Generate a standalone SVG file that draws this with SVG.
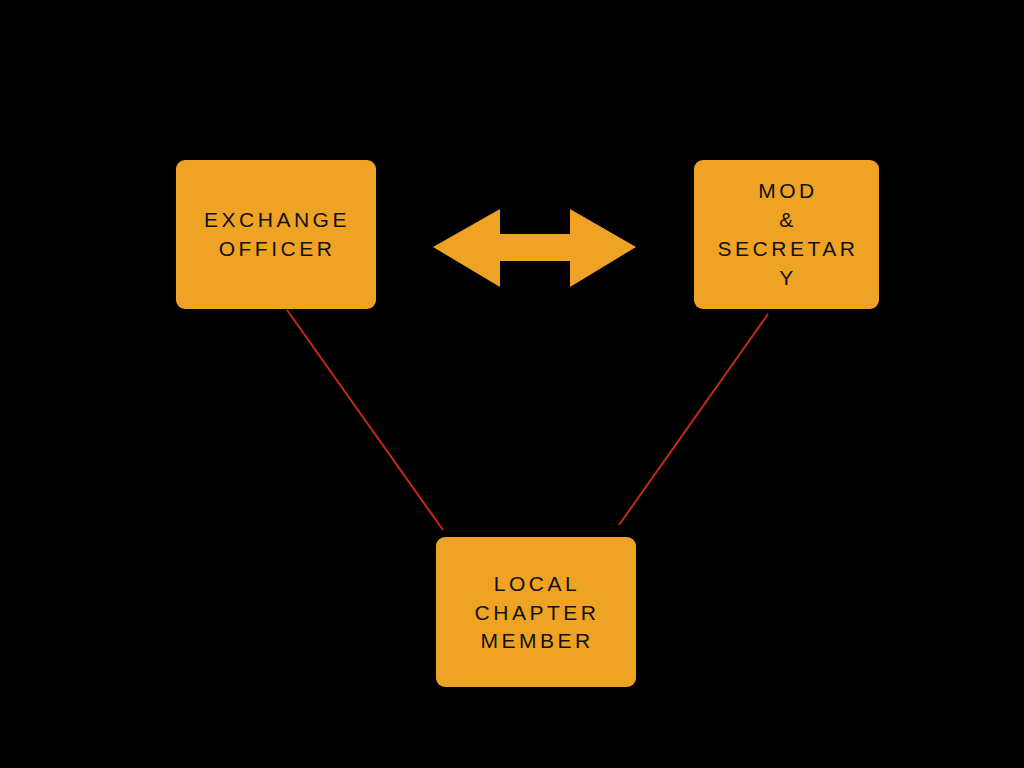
<svg xmlns="http://www.w3.org/2000/svg" width="1024" height="768" viewBox="0 0 1024 768">
<style>
.box{fill:#efa324}
.t{font-family:"Liberation Sans",Arial,sans-serif;font-size:21px;letter-spacing:3.5px;fill:#111;text-anchor:middle}
.c{stroke:#c42a18;stroke-width:2;fill:none}
</style>
<rect width="1024" height="768" fill="#000"/>
<g id="connectors">
<line class="c" x1="287" y1="310" x2="443" y2="530"/>
<line class="c" x1="768" y1="314" x2="619" y2="525"/>
<polygon class="box" points="433,247 500,209 500,234 570,234 570,209 636,247 570,287 570,261 500,261 500,287"/>
</g>
<g id="exchange-officer">
<rect class="box" x="176" y="160" width="200" height="149" rx="9"/>
<text class="t" x="277" y="227">EXCHANGE</text>
<text class="t" x="277" y="256">OFFICER</text>
</g>
<g id="mod-secretary">
<rect class="box" x="694" y="160" width="185" height="149" rx="9"/>
<text class="t" x="788" y="198">MOD</text>
<text class="t" x="788" y="227">&amp;</text>
<text class="t" x="788" y="256">SECRETAR</text>
<text class="t" x="788" y="285">Y</text>
</g>
<g id="local-chapter-member">
<rect class="box" x="436" y="537" width="200" height="150" rx="9"/>
<text class="t" x="537" y="591">LOCAL</text>
<text class="t" x="537" y="620">CHAPTER</text>
<text class="t" x="537" y="648">MEMBER</text>
</g>
</svg>
